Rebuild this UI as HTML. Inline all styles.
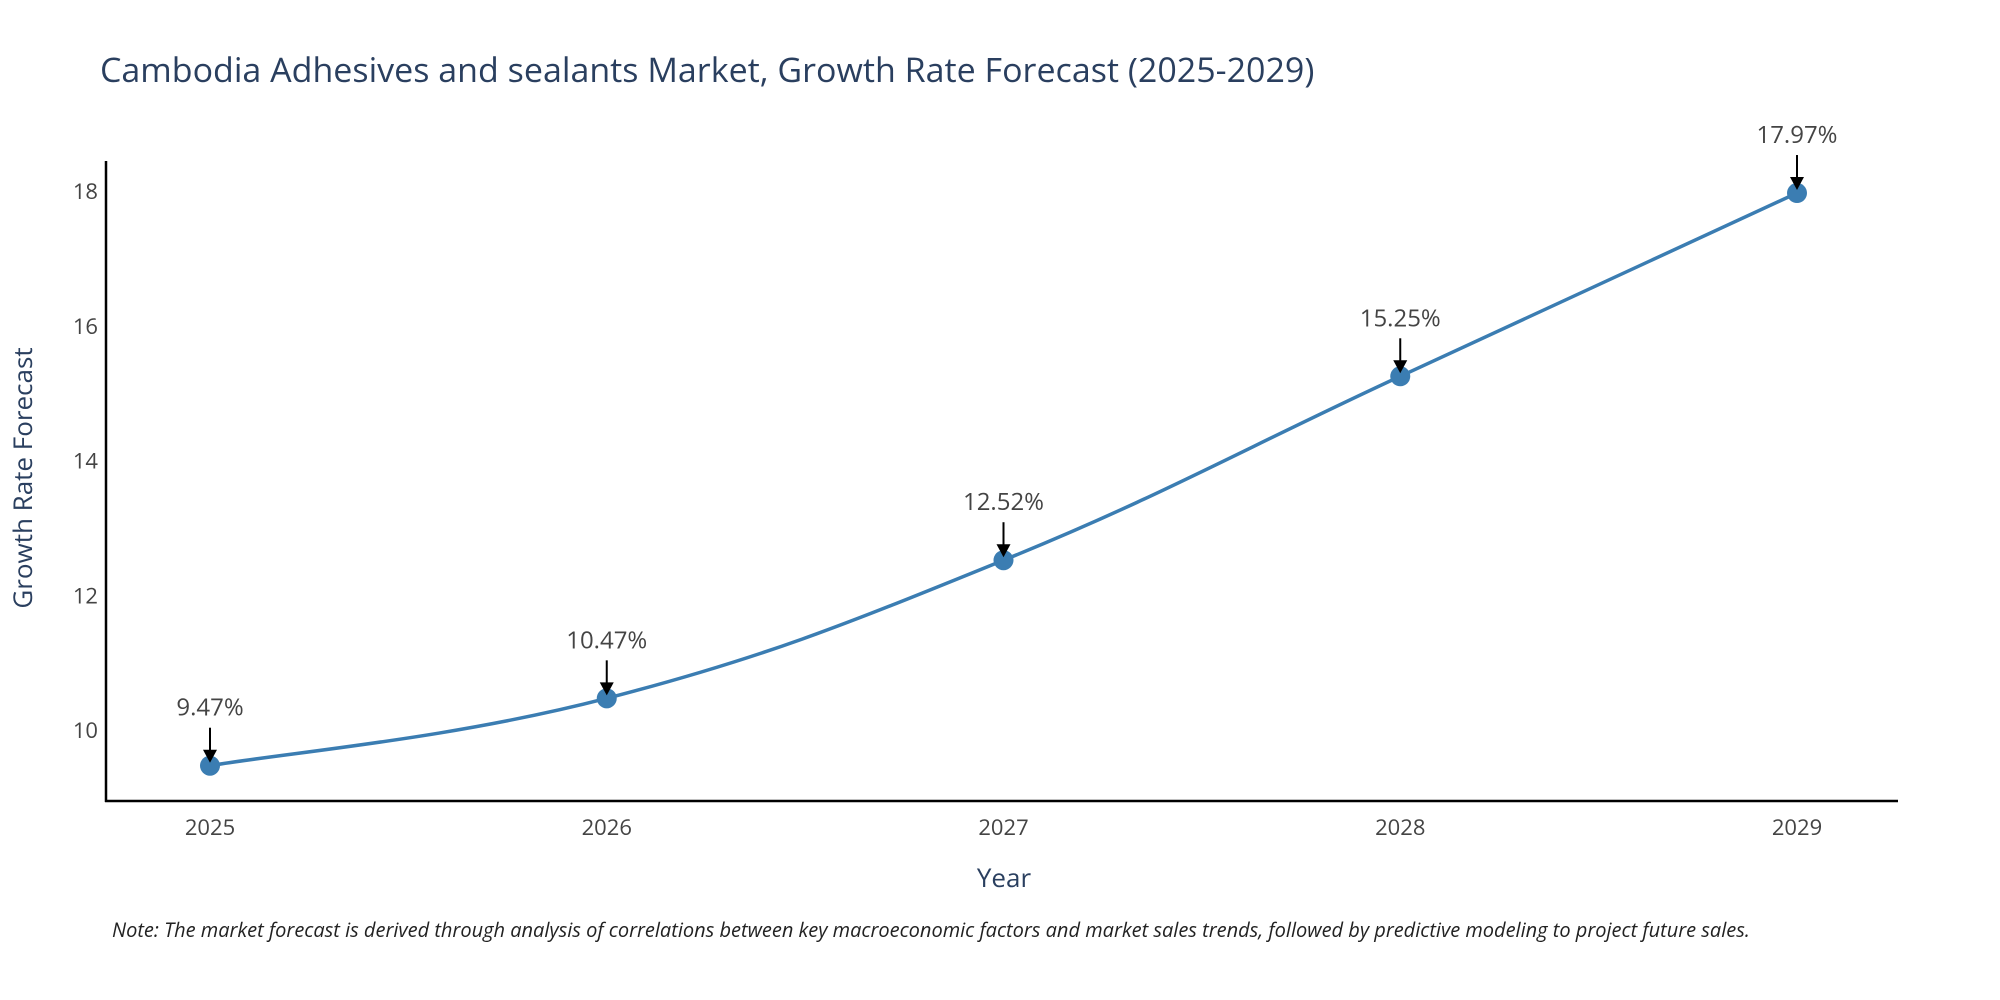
<!DOCTYPE html>
<html><head><meta charset="utf-8"><style>
body{margin:0;background:#fff;}
svg{display:block;font-family:"Open Sans","Liberation Sans",sans-serif;}
</style></head><body>
<svg id="chart" width="2000" height="1000" viewBox="0 0 2000 1000">
<text x="100" y="82" font-size="34" fill="#2a3f5f">Cambodia Adhesives and sealants Market, Growth Rate Forecast (2025-2029)</text>
<g id="yticks"></g>
<g id="xticks"></g>
<line x1="106" y1="161" x2="106" y2="802" stroke="#000" stroke-width="2.5"/>
<line x1="105" y1="801" x2="1898" y2="801" stroke="#000" stroke-width="2.5"/>
<path id="line" fill="none" stroke="#3b7db2" stroke-width="3.5"/>
<g id="points"></g>
<g id="annots"></g>
<text x="1004" y="887" font-size="26" fill="#2a3f5f" text-anchor="middle">Year</text>
<text transform="translate(32,478) rotate(-90)" font-size="26" fill="#2a3f5f" text-anchor="middle">Growth Rate Forecast</text>
<text x="112" y="937" font-size="20" font-style="italic" fill="#222">Note: The market forecast is derived through analysis of correlations between key macroeconomic factors and market sales trends, followed by predictive modeling to project future sales.</text>
</svg>
<script>
const years=[2025,2026,2027,2028,2029];
const values=[9.47,10.47,12.52,15.25,17.97];
const labels=["9.47%","10.47%","12.52%","15.25%","17.97%"];
const yTicks=[10,12,14,16,18];
const NS="http://www.w3.org/2000/svg";
function xs(v){return 210+(v-2025)*(1797-210)/4;}
function ys(v){return 730-(v-10)*(730-191)/8;}
function mk(t,a,p){const e=document.createElementNS(NS,t);for(const k in a)e.setAttribute(k,a[k]);p.appendChild(e);return e;}
const yt=document.getElementById('yticks');
yTicks.forEach(t=>{const e=mk('text',{x:98,y:ys(t)+8,'font-size':22,fill:'#444','text-anchor':'end'},yt);


e.textContent=t;});
const xt=document.getElementById('xticks');
years.forEach(y=>{const e=mk('text',{x:xs(y),y:835,'font-size':22,fill:'#444','text-anchor':'middle'},xt);


e.textContent=y;});
const P=years.map((y,i)=>[xs(y),ys(values[i])]);
let d='M'+P[0][0]+','+P[0][1];
for(let i=0;i<P.length-1;i++){const p0=P[Math.max(i-1,0)],p1=P[i],p2=P[i+1],p3=P[Math.min(i+2,P.length-1)];const s=0.2;
d+=` C${p1[0]+(p2[0]-p0[0])*s},${p1[1]+(p2[1]-p0[1])*s} ${p2[0]-(p3[0]-p1[0])*s},${p2[1]-(p3[1]-p1[1])*s} ${p2[0]},${p2[1]}`;}
document.getElementById('line').setAttribute('d',d);
const pts=document.getElementById('points'),an=document.getElementById('annots');
P.forEach((p,i)=>{const c=mk('circle',{cx:p[0],cy:p[1],r:10,fill:'#3b7db2'},pts);


const l=mk('line',{x1:p[0],y1:p[1]-38,x2:p[0],y2:p[1]-14,stroke:'#000','stroke-width':2},an);


const h=mk('polygon',{points:`${p[0]-7},${p[1]-16} ${p[0]+7},${p[1]-16} ${p[0]},${p[1]-3}`,fill:'#000'},an);


const t=mk('text',{x:p[0],y:p[1]-50,'font-size':24,fill:'#444','text-anchor':'middle'},an);


t.textContent=labels[i];});
</script>
</body></html>
